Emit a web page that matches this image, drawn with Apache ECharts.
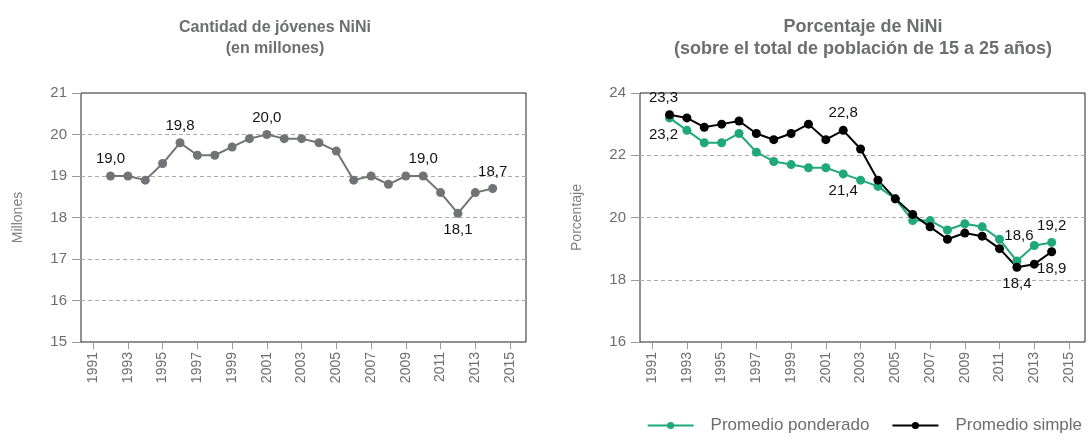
<!DOCTYPE html>
<html><head><meta charset="utf-8">
<script src="https://cdn.jsdelivr.net/npm/echarts@6/dist/echarts.min.js"></script>
<style>html,body{margin:0;padding:0;background:#fff}#c{width:1089px;height:440px}</style>
</head><body><div id="c"></div>
<script>
const years = [1992,1993,1994,1995,1996,1997,1998,1999,2000,2001,2002,2003,2004,2005,2006,2007,2008,2009,2010,2011,2012,2013,2014];
const tickYears = [1991,1993,1995,1997,1999,2001,2003,2005,2007,2009,2011,2013,2015];
const niniMillones = [19.0,19.0,18.9,19.3,19.8,19.5,19.5,19.7,19.9,20.0,19.9,19.9,19.8,19.6,18.9,19.0,18.8,19.0,19.0,18.6,18.1,18.6,18.7];
const promedioPonderado = [23.2,22.8,22.4,22.4,22.7,22.1,21.8,21.7,21.6,21.6,21.4,21.2,21.0,20.6,19.9,19.9,19.6,19.8,19.7,19.3,18.6,19.1,19.2];
const promedioSimple = [23.3,23.2,22.9,23.0,23.1,22.7,22.5,22.7,23.0,22.5,22.8,22.2,21.2,20.6,20.1,19.7,19.3,19.5,19.4,19.0,18.4,18.5,18.9];
const leftLabelsTop = [1992,1996,2001,2010,2014];
const leftLabelsBottom = [2012];
const ponderadoLabelsTop = [2012,2014];
const ponderadoLabelsBottom = [1992,2002];
const simpleLabelsTop = [1992,2002];
const simpleLabelsBottom = [2012,2014];

const FONT = '"Liberation Sans", Arial, sans-serif';
const GRAY = '#6d6e71';
const fmt = v => v.toFixed(1).replace('.', ',');

function build(vals, top, bottom, extra) {
  return years.map((y, i) => {
    const item = { value: [y, vals[i]] };
    const ex = (extra && extra[y]) || {};
    if (top.includes(y)) item.label = Object.assign({ show: true, position: 'top', distance: 5 }, ex);
    else if (bottom.includes(y)) item.label = Object.assign({ show: true, position: 'bottom', distance: 5 }, ex);
    return item;
  });
}

const labelStyle = { color: '#111', fontSize: 15, fontFamily: FONT, formatter: p => fmt(p.value[1]) };

function xAxis(idx) {
  return {
    gridIndex: idx, type: 'value', min: 1990.3, max: 2015.92,
    axisLine: { show: false },
    axisTick: { show: true, customValues: tickYears, length: 7, lineStyle: { color: '#999' } },
    axisLabel: { customValues: tickYears, rotate: 90, color: GRAY, fontSize: 14, fontFamily: FONT, margin: 10, formatter: v => String(v) },
    splitLine: { show: false }
  };
}
function yAxis(idx, min, max, interval, name) {
  return {
    gridIndex: idx, type: 'value', min, max, interval,
    name, nameLocation: 'middle', nameGap: 56,
    nameTextStyle: { color: '#808080', fontSize: 14, fontFamily: FONT },
    axisLine: { show: false },
    axisTick: { show: true, length: 9, lineStyle: { color: '#999' } },
    axisLabel: { color: GRAY, fontSize: 15, fontFamily: FONT, margin: 14 },
    splitLine: { show: true, showMinLine: false, showMaxLine: false, lineStyle: { color: '#aaa', type: [4, 3], width: 1 } }
  };
}

const chart = echarts.init(document.getElementById('c'), null, { renderer: 'canvas' });
chart.setOption({
  animation: false,
  backgroundColor: '#fff',
  title: [
    { text: 'Cantidad de jóvenes NiNi\n(en millones)', left: 270, top: 12, textAlign: 'center',
      textStyle: { color: GRAY, fontSize: 16, fontWeight: 'bold', fontFamily: FONT, lineHeight: 21 } },
    { text: 'Porcentaje de NiNi\n(sobre el total de población de 15 a 25 años)', left: 858, top: 11, textAlign: 'center',
      textStyle: { color: GRAY, fontSize: 18, fontWeight: 'bold', fontFamily: FONT, lineHeight: 22 } }
  ],
  grid: [
    { left: 81, right: 563, top: 93, bottom: 98, show: true, borderColor: '#222', borderWidth: 1, backgroundColor: 'transparent' },
    { left: 640, right: 4, top: 93, bottom: 98, show: true, borderColor: '#222', borderWidth: 1, backgroundColor: 'transparent' }
  ],
  xAxis: [xAxis(0), xAxis(1)],
  yAxis: [yAxis(0, 15, 21, 1, 'Millones'), yAxis(1, 16, 24, 2, 'Porcentaje')],
  legend: {
    right: 2, bottom: 1, itemWidth: 46, itemHeight: 9, itemGap: 22,
    textStyle: { color: GRAY, fontSize: 17, fontFamily: FONT, padding: [0, 0, 0, 12] },
    data: ['Promedio ponderado', 'Promedio simple']
  },
  series: [
    { name: 'Millones', type: 'line', xAxisIndex: 0, yAxisIndex: 0,
      data: build(niniMillones, leftLabelsTop, leftLabelsBottom),
      symbol: 'circle', symbolSize: 9, itemStyle: { color: '#727376' }, lineStyle: { color: '#727376', width: 2 },
      label: Object.assign({ show: false }, labelStyle) },
    { name: 'Promedio ponderado', type: 'line', xAxisIndex: 1, yAxisIndex: 1,
      data: build(promedioPonderado, ponderadoLabelsTop, ponderadoLabelsBottom, { 1992: { offset: [-6, 0] }, 2012: { offset: [2, -8] } }),
      symbol: 'circle', symbolSize: 9, itemStyle: { color: '#1fa878' }, lineStyle: { color: '#1fa878', width: 2 },
      label: Object.assign({ show: false }, labelStyle) },
    { name: 'Promedio simple', type: 'line', xAxisIndex: 1, yAxisIndex: 1,
      data: build(promedioSimple, simpleLabelsTop, simpleLabelsBottom, { 1992: { offset: [-6, 0] } }),
      symbol: 'circle', symbolSize: 9, itemStyle: { color: '#000' }, lineStyle: { color: '#000', width: 2 },
      label: Object.assign({ show: false }, labelStyle) }
  ]
});
</script></body></html>
